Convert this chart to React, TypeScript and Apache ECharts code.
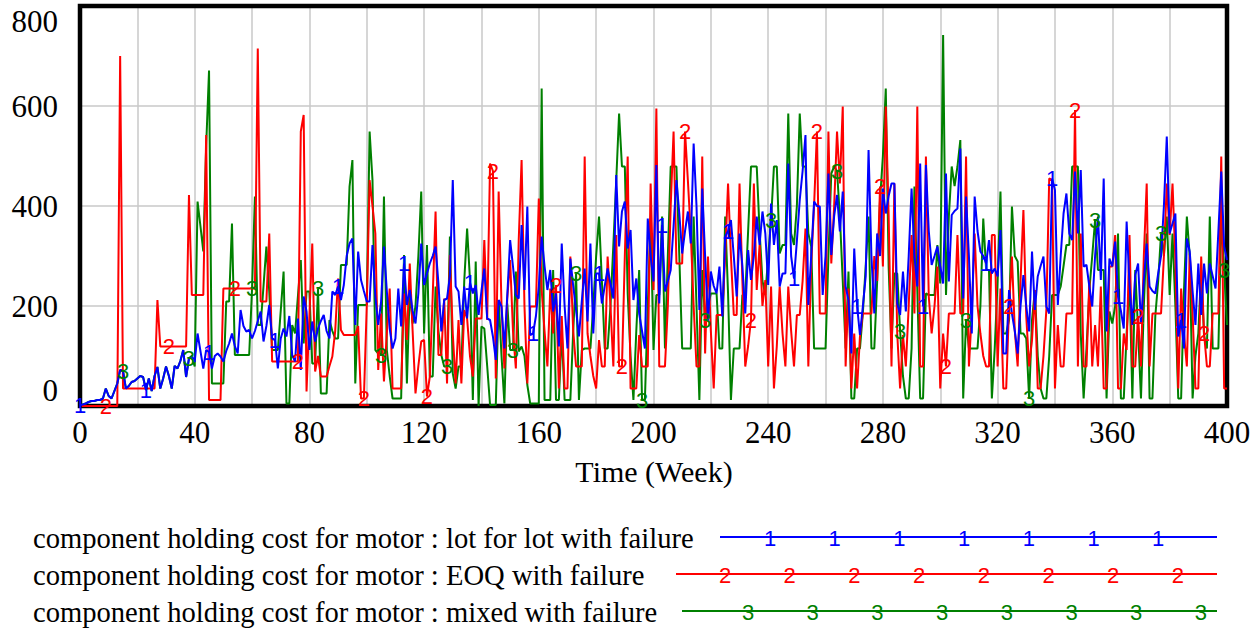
import React, { useEffect, useRef } from "react";
import * as echarts from "echarts";

// ---- data (weekly values, week 0..400) ----
const lotForLot = [
  2, 3, 5, 8, 10, 10, 12, 12, 15, 35,
  20, 15, 30, 45, 72, 70, 35, 40, 48, 50,
  55, 60, 58, 32, 55, 30, 60, 78, 35, 55,
  79, 60, 35, 80, 75, 90, 112, 58, 95, 100,
  88, 145, 110, 75, 112, 108, 75, 100, 105, 99,
  89, 110, 125, 145, 120, 105, 192, 160, 149, 152,
  135, 150, 170, 189, 129, 160, 202, 135, 132, 75,
  135, 155, 139, 180, 102, 89, 175, 72, 219, 189,
  112, 169, 129, 155, 170, 182, 150, 135, 229, 222,
  239, 212, 242, 300, 325, 335, 162, 309, 252, 230,
  209, 209, 322, 219, 162, 209, 319, 230, 155, 115,
  135, 235, 159, 285, 202, 232, 190, 165, 225, 325,
  242, 265, 285, 300, 319, 245, 149, 212, 215, 260,
  452, 239, 229, 162, 239, 175, 247, 225, 242, 182,
  230, 275, 175, 172, 139, 92, 212, 199, 115, 220,
  332, 279, 222, 215, 362, 232, 399, 142, 145, 180,
  239, 339, 280, 232, 272, 189, 225, 119, 325, 200,
  115, 295, 240, 192, 139, 210, 275, 169, 325, 145,
  265, 265, 205, 240, 275, 245, 215, 462, 319, 389,
  409, 315, 352, 212, 255, 185, 150, 115, 375, 300,
  249, 482, 205, 362, 229, 250, 272, 360, 452, 385,
  305, 350, 389, 325, 525, 400, 192, 435, 300, 169,
  269, 240, 225, 279, 179, 339, 350, 372, 300, 219,
  345, 280, 185, 312, 252, 300, 379, 322, 389, 345,
  242, 405, 322, 372, 239, 265, 265, 485, 300, 255,
  330, 412, 470, 542, 202, 300, 409, 400, 399, 222,
  300, 465, 302, 380, 422, 349, 429, 239, 212, 105,
  315, 200, 142, 199, 259, 512, 300, 185, 345, 300,
  435, 385, 420, 445, 445, 205, 182, 269, 189, 300,
  435, 300, 239, 485, 199, 482, 350, 282, 300, 319,
  280, 245, 465, 249, 382, 390, 395, 515, 215, 419,
  300, 145, 419, 350, 309, 300, 285, 332, 265, 275,
  259, 352, 105, 105, 232, 185, 150, 105, 200, 262,
  200, 149, 309, 192, 259, 280, 299, 199, 185, 455,
  432, 202, 300, 385, 425, 345, 332, 469, 345, 472,
  279, 282, 239, 199, 300, 379, 252, 455, 149, 295,
  279, 329, 219, 190, 155, 369, 242, 162, 262, 285,
  165, 250, 325, 239, 230, 225, 265, 300, 400, 539,
  345, 365, 385, 139, 172, 115, 335, 309, 230, 162,
  285, 182, 285, 225, 285, 260, 235, 350, 469, 319,
  292,
];

const eoq = [
  0, 0, 0, 0, 0, 0, 0, 0, 0, 0,
  0, 0, 0, 0, 700, 35, 35, 35, 35, 35,
  35, 35, 35, 35, 35, 35, 35, 212, 119, 119,
  119, 119, 119, 119, 119, 119, 119, 119, 422, 222,
  222, 222, 222, 222, 542, 12, 12, 12, 12, 12,
  235, 235, 235, 235, 235, 235, 235, 235, 235, 235,
  235, 235, 715, 209, 209, 209, 345, 89, 89, 89,
  89, 89, 89, 89, 89, 89, 89, 549, 582, 29,
  180, 325, 69, 100, 59, 59, 59, 80, 99, 150,
  255, 152, 142, 142, 142, 142, 142, 160, 15, 15,
  200, 452, 400, 345, 72, 185, 49, 145, 235, 35,
  35, 35, 35, 225, 132, 285, 150, 25, 80, 129,
  132, 19, 59, 220, 389, 102, 102, 215, 45, 302,
  145, 45, 172, 45, 192, 175, 100, 59, 175, 175,
  175, 332, 172, 485, 470, 55, 429, 200, 75, 215,
  292, 150, 75, 332, 492, 200, 45, 199, 199, 199,
  415, 232, 150, 79, 235, 145, 242, 35, 180, 35,
  35, 299, 150, 79, 79, 79, 499, 145, 100, 60,
  35, 132, 79, 79, 299, 200, 79, 342, 79, 79,
  300, 499, 35, 35, 35, 142, 79, 79, 79, 445,
  232, 595, 79, 79, 79, 200, 400, 549, 285, 285,
  285, 549, 450, 345, 200, 79, 79, 499, 105, 299,
  150, 35, 182, 182, 182, 300, 445, 300, 182, 182,
  445, 250, 79, 120, 172, 445, 232, 322, 200, 252,
  79, 239, 35, 120, 239, 145, 79, 239, 150, 79,
  182, 182, 250, 355, 79, 285, 400, 549, 185, 185,
  185, 549, 285, 400, 549, 445, 599, 79, 235, 35,
  145, 35, 139, 185, 185, 185, 185, 300, 250, 439,
  279, 599, 382, 79, 445, 145, 35, 142, 79, 200,
  342, 185, 599, 79, 79, 499, 219, 145, 200, 279,
  35, 145, 79, 185, 185, 185, 342, 185, 185, 499,
  79, 185, 345, 200, 145, 100, 79, 79, 342, 342,
  79, 235, 35, 35, 199, 299, 150, 79, 250, 392,
  179, 79, 132, 232, 35, 35, 100, 192, 455, 452,
  35, 162, 79, 79, 185, 185, 185, 592, 79, 345,
  79, 79, 252, 79, 162, 79, 239, 35, 35, 279,
  279, 342, 35, 35, 145, 112, 342, 79, 79, 180,
  79, 300, 445, 79, 185, 185, 185, 185, 300, 445,
  342, 445, 292, 35, 235, 145, 79, 305, 185, 35,
  35, 299, 145, 79, 79, 185, 185, 185, 499, 35,
  35,
];

const mixed = [
  2, 3, 5, 8, 10, 10, 12, 12, 15, 35,
  20, 15, 30, 45, 72, 70, 35, 40, 48, 50,
  55, 60, 58, 32, 55, 30, 60, 78, 35, 55,
  79, 60, 35, 80, 75, 90, 112, 58, 95, 100,
  79, 409, 360, 309, 520, 671, 45, 45, 45, 45,
  45, 209, 209, 365, 102, 102, 102, 102, 102, 102,
  235, 419, 162, 162, 240, 319, 229, 112, 112, 112,
  190, 269, 5, 5, 162, 145, 220, 292, 125, 229,
  229, 85, 85, 235, 25, 25, 25, 172, 150, 135,
  135, 282, 282, 282, 439, 492, 45, 202, 202, 202,
  202, 549, 452, 112, 105, 102, 419, 112, 60, 15,
  15, 15, 15, 302, 45, 232, 165, 200, 300, 429,
  145, 322, 59, 59, 239, 150, 102, 79, 79, 339,
  65, 35, 79, 79, 250, 355, 252, 12, 289, 0,
  159, 155, 80, 2, 2, 2, 212, 100, 5, 205,
  112, 112, 269, 109, 119, 100, 42, 5, 5, 5,
  5, 635, 12, 12, 12, 272, 12, 12, 150, 12,
  12, 12, 150, 265, 12, 112, 115, 115, 115, 200,
  300, 379, 250, 115, 115, 200, 322, 450, 585, 479,
  479, 225, 100, 12, 150, 272, 12, 12, 200, 375,
  112, 222, 222, 379, 115, 300, 479, 479, 479, 300,
  115, 115, 115, 115, 379, 200, 12, 272, 172, 200,
  225, 225, 225, 115, 115, 379, 225, 12, 115, 115,
  115, 222, 222, 350, 479, 479, 479, 350, 250, 222,
  300, 372, 479, 479, 305, 322, 322, 585, 345, 322,
  400, 585, 479, 479, 345, 319, 115, 115, 115, 115,
  115, 300, 465, 479, 470, 379, 250, 115, 269, 15,
  15, 115, 115, 185, 280, 379, 115, 115, 250, 412,
  500, 635, 279, 115, 265, 265, 150, 60, 15, 15,
  115, 439, 232, 15, 15, 225, 222, 222, 222, 322,
  245, 742, 222, 379, 479, 440, 479, 532, 15, 172,
  115, 115, 115, 115, 200, 375, 272, 272, 15, 115,
  250, 429, 145, 145, 172, 399, 300, 289, 145, 145,
  135, 15, 172, 232, 100, 35, 15, 15, 100, 222,
  222, 222, 239, 280, 322, 322, 479, 479, 479, 145,
  15, 115, 232, 300, 372, 272, 272, 272, 15, 189,
  165, 200, 345, 15, 15, 145, 252, 15, 272, 150,
  15, 200, 345, 15, 15, 180, 250, 345, 300, 379,
  222, 345, 200, 15, 15, 232, 379, 300, 15, 100,
  145, 272, 140, 115, 379, 115, 115, 115, 379, 272,
  162,
];

const seriesNames = [
  "component holding cost for motor : lot for lot with failure",
  "component holding cost for motor : EOQ with failure",
  "component holding cost for motor : mixed with failure",
];
const seriesDigits = ["1", "2", "3"];
const seriesColors = ["#0000ff", "#ff0000", "#008000"];
// marker label placement along each line (week offset of first label, spacing)
const markerOffsets = [0, 8.5, 15];
const markerPeriods = [22.6, 22.55, 22.6];

const xTickLabels = [0, 40, 80, 120, 160, 200, 240, 280, 320, 360, 400];
const yTickLabels = [0, 200, 400, 600, 800];
const xAxisTitle = "Time (Week)";

const SERIF = "'Liberation Serif', 'Times New Roman', serif";
const SANS = "'Liberation Sans', Arial, sans-serif";

function toPairs(values: number[]) {
  return values.map((v, i) => [i, v]);
}

function markerPoints(values: number[], offset: number, period: number) {
  const pts: number[][] = [];
  for (let t = offset; t <= values.length - 1; t += period) {
    const i = Math.round(t);
    pts.push([i, values[i]]);
  }
  return pts;
}

export default function App() {
  const ref = useRef<HTMLDivElement>(null);

  useEffect(() => {
    if (!ref.current) return;
    const chart = echarts.init(ref.current, null, { renderer: "svg" });
    const allSeries = [lotForLot, eoq, mixed];
    const zOrder = [6, 5, 4];

    const lineSeries = allSeries.map((vals, k) => ({
      type: "line",
      name: seriesNames[k],
      data: toPairs(vals),
      showSymbol: false,
      symbol: "none",
      z: zOrder[k],
      lineStyle: { color: seriesColors[k], width: 2 },
      itemStyle: { color: seriesColors[k] },
      silent: true,
    }));

    const markerSeries = allSeries.map((vals, k) => ({
      type: "scatter",
      data: markerPoints(vals, markerOffsets[k], markerPeriods[k]),
      symbol: "circle",
      symbolSize: 1,
      z: 10,
      clip: false,
      silent: true,
      itemStyle: { color: "rgba(0,0,0,0)" },
      label: {
        show: true,
        position: "inside",
        formatter: seriesDigits[k],
        color: seriesColors[k],
        fontSize: 22,
        fontFamily: SANS,
        opacity: 1,
      },
    }));

    const gridLeft = 80;
    const gridTop = 6;
    const gridW = 1147;
    const gridH = 400;

    const graphics: any[] = [
      {
        type: "rect",
        z: 3,
        silent: true,
        shape: { x: gridLeft, y: gridTop, width: gridW, height: gridH },
        style: { fill: "none", stroke: "#000", lineWidth: 4.5 },
      },
    ];

    // legend built from the series names
    const legendRowsY = [537, 574, 611];
    const legendLineStart = [720, 676, 682];
    const legendLineEnd = 1217;
    const legendMarkerStart = [770, 725, 748];
    const legendMarkerStep = 64.7;
    seriesNames.forEach((name, k) => {
      graphics.push({
        type: "text",
        x: 33,
        y: legendRowsY[k] + 1,
        style: {
          text: name,
          fontSize: 28.6,
          fontFamily: SERIF,
          fill: "#000",
          verticalAlign: "middle",
          align: "left",
        },
      });
      graphics.push({
        type: "line",
        shape: { x1: legendLineStart[k], y1: legendRowsY[k], x2: legendLineEnd, y2: legendRowsY[k] },
        style: { stroke: seriesColors[k], lineWidth: 2 },
      });
      for (let mx = legendMarkerStart[k]; mx < legendLineEnd; mx += legendMarkerStep) {
        graphics.push({
          type: "text",
          x: mx,
          y: legendRowsY[k] + 1,
          style: {
            text: seriesDigits[k],
            fontSize: 22,
            fontFamily: SANS,
            fill: seriesColors[k],
            align: "center",
            verticalAlign: "middle",
          },
        });
      }
    });
    graphics.push({
      type: "text",
      x: 654,
      y: 471,
      style: {
        text: xAxisTitle,
        fontSize: 30,
        fontFamily: SERIF,
        fill: "#000",
        align: "center",
        verticalAlign: "middle",
      },
    });

    chart.setOption({
      animation: false,
      backgroundColor: "#ffffff",
      grid: {
        left: gridLeft,
        top: gridTop,
        width: gridW,
        height: gridH,
        show: false,
      },
      xAxis: {
        type: "value",
        min: 0,
        max: 400,
        interval: 20,
        axisLine: { show: false },
        axisTick: { show: false },
        splitLine: { show: true, lineStyle: { color: "#c8c8c8", width: 1.5 } },
        axisLabel: {
          margin: 11,
          fontSize: 31,
          fontFamily: SERIF,
          color: "#000",
          formatter: (v: number) => (xTickLabels.includes(v) ? String(v) : ""),
        },
      },
      yAxis: {
        type: "value",
        min: 0,
        max: 800,
        interval: 200,
        axisLine: { show: false },
        axisTick: { show: false },
        splitLine: { show: true, lineStyle: { color: "#d6d6d6", width: 2 } },
        axisLabel: {
          margin: 22,
          fontSize: 31,
          fontFamily: SERIF,
          color: "#000",
          verticalAlignMaxLabel: "top",
          verticalAlignMinLabel: "bottom",
          formatter: (v: number) => (yTickLabels.includes(v) ? String(v) : ""),
        },
      },
      graphic: graphics,
      series: [...lineSeries, ...markerSeries],
    } as any);

    return () => chart.dispose();
  }, []);

  return (
    <div
      ref={ref}
      style={{ position: "absolute", left: 0, top: 0, width: 1260, height: 630, background: "#fff" }}
    />
  );
}
